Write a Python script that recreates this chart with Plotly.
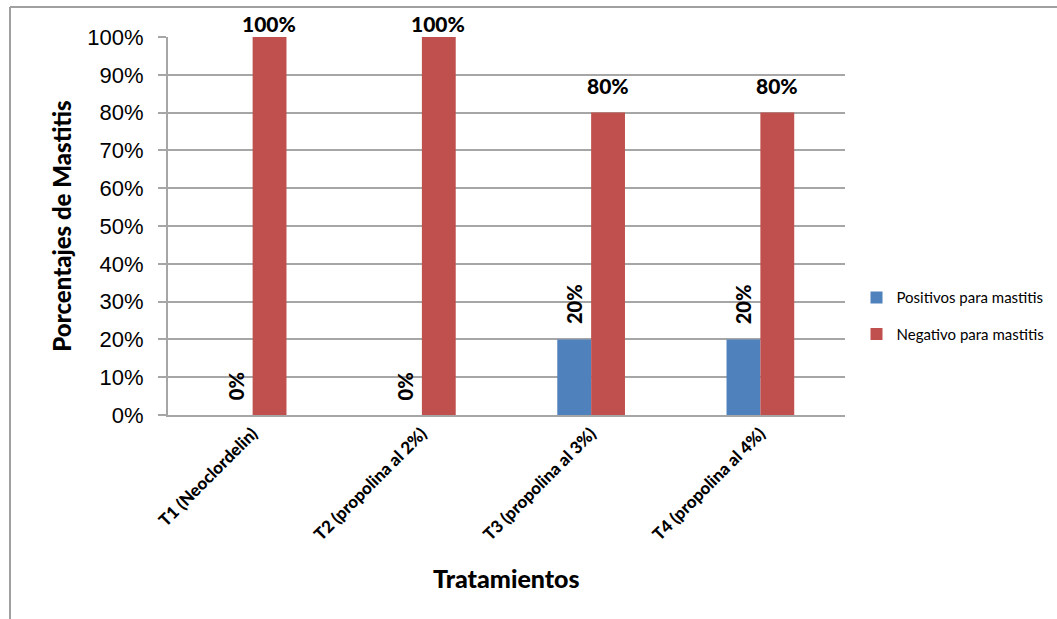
import plotly.graph_objects as go

# Treatments and mastitis percentages per group
categories = [
    "T1 (Neoclordelin)",
    "T2 (propolina al 2%)",
    "T3 (propolina al 3%)",
    "T4 (propolina al 4%)",
]
positivos = [0, 0, 20, 20]
negativos = [100, 100, 80, 80]

BLUE = "#4F81BD"
RED = "#C0504D"
GRID = "#A6A6A6"
LABEL_FONT = "Lato"
BOLD = dict(family=LABEL_FONT, color="black", weight=900)

fig = go.Figure()
fig.add_trace(go.Bar(
    x=categories, y=positivos, name="Positivos para mastitis",
    marker=dict(color=BLUE, line=dict(width=0)), legendgroup="pos",
))
fig.add_trace(go.Bar(
    x=categories, y=negativos, name="Negativo para mastitis",
    marker=dict(color=RED, line=dict(width=0)), legendgroup="neg",
))

annotations = []
# Value labels: rotated for the positive series, horizontal for the negative one
for cat, v in zip(categories, positivos):
    annotations.append(dict(
        x=cat, y=v, xref="x", yref="y", text=f"{v}%", showarrow=False,
        textangle=-90, xshift=-16.5, yanchor="bottom", yshift=13,
        font=dict(BOLD, size=20),
    ))
for cat, v in zip(categories, negativos):
    annotations.append(dict(
        x=cat, y=v, xref="x", yref="y", text=f"{v}%", showarrow=False,
        xshift=16.5, yanchor="bottom", yshift=13 if v < 95 else -1,
        font=dict(BOLD, size=21),
    ))

# Horizontal axis title
annotations.append(dict(
    x=0.5, y=-0.43, xref="paper", yref="paper", text="Tratamientos",
    showarrow=False, xanchor="center", yanchor="middle",
    font=dict(BOLD, size=25),
))

fig.update_layout(
    width=1057, height=619,
    margin=dict(l=168, r=212, t=37, b=204, autoexpand=False),
    paper_bgcolor="white", plot_bgcolor="white",
    barmode="group", bargap=0.6, bargroupgap=0,
    showlegend=True,
    legend=dict(
        x=1.017, y=0.354, xanchor="left", yanchor="top",
        font=dict(family=LABEL_FONT, size=15, color="black"),
        traceorder="grouped", tracegroupgap=14,
        bgcolor="rgba(0,0,0,0)", itemwidth=30,
    ),
    annotations=annotations,
    shapes=[
        # outer chart frame (left and top edges)
        dict(type="line", xref="paper", yref="paper", x0=-0.2334, x1=-0.2334,
             y0=1.0794, y1=-0.56, line=dict(color="#A0A0A0", width=2)),
        dict(type="line", xref="paper", yref="paper", x0=-0.2334, x1=1.35,
             y0=1.0794, y1=1.0794, line=dict(color="#A0A0A0", width=2)),
    ],
    xaxis=dict(
        type="category", showgrid=False, showline=True, linecolor=GRID,
        linewidth=2, ticks="", tickangle=-45,
        tickfont=dict(BOLD, size=17),
    ),
    yaxis=dict(
        range=[0, 100], tickvals=list(range(0, 101, 10)),
        ticktext=[f"{t}%" for t in range(0, 101, 10)],
        showgrid=True, gridcolor=GRID, gridwidth=1.5,
        showline=True, linecolor=GRID, linewidth=2,
        ticks="outside", ticklen=8, tickcolor=GRID, tickwidth=1.5,
        ticklabelstandoff=10,
        tickfont=dict(family="Liberation Sans", size=22, color="black"),
        zeroline=False,
        title=dict(text="Porcentajes de Mastitis", standoff=9,
                   font=dict(BOLD, size=24)),
    ),
)

fig.write_html("out.html")
